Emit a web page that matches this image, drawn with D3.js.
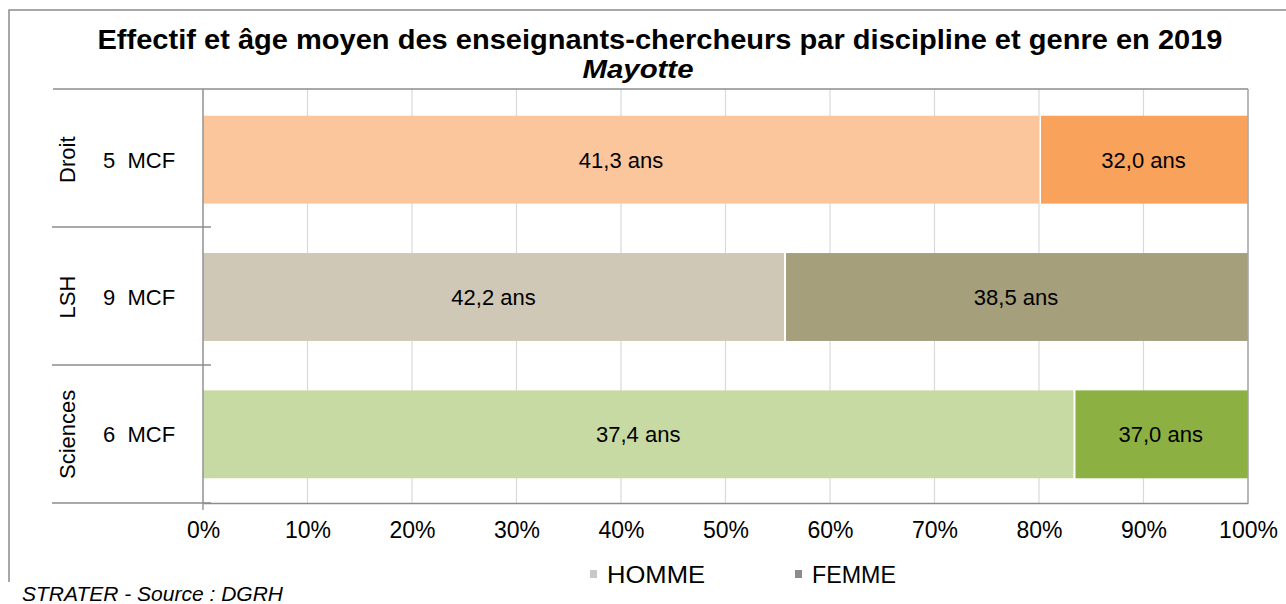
<!DOCTYPE html>
<html>
<head>
<meta charset="utf-8">
<script src="https://cdn.jsdelivr.net/npm/d3@7"></script>
<style>
body { margin: 0; background: #fff; }
text { font-family: "Liberation Sans", Arial, sans-serif; fill: #000; }
</style>
</head>
<body>
<svg id="chart" width="1286" height="604"></svg>
<script>
const disciplines = ["Droit", "LSH", "Sciences"];
const effectifs = ["5  MCF", "9  MCF", "6  MCF"];
const partHomme = [80.0, 55.6, 83.3];
const partFemme = [20.0, 44.4, 16.7];
const ageHomme = ["41,3 ans", "42,2 ans", "37,4 ans"];
const ageFemme = ["32,0 ans", "38,5 ans", "37,0 ans"];
const couleursHomme = ["#fcc69c", "#cfc8b6", "#c8daa4"];
const couleursFemme = ["#f9a25c", "#a59f7b", "#8cb042"];
const ticks = [0, 10, 20, 30, 40, 50, 60, 70, 80, 90, 100];

const svg = d3.select("#chart");

// cadre
svg.append("rect").attr("x", 9).attr("y", 10).attr("width", 1290).attr("height", 600)
	.attr("fill", "none").attr("stroke", "#8c8c8c").attr("stroke-width", 1.5);

const pLeft = 203, pRight = 1248, pTop = 89, pBottom = 503;
const xs = d3.scaleLinear().domain([0, 100]).range([pLeft, pRight]);
const ys = d3.scaleBand().domain(disciplines).range([pTop + 2, pBottom]).paddingInner(0.36).paddingOuter(0.18);

// titre
svg.append("text").attr("x", 660).attr("y", 49).attr("text-anchor", "middle")
	.style("font-family", "'Liberation Sans Narrow', 'Liberation Sans', sans-serif")
	.style("font-weight", "bold").style("font-size", "27px")
	.attr("textLength", 1125).attr("lengthAdjust", "spacingAndGlyphs")
	.text("Effectif et âge moyen  des enseignants-chercheurs par discipline et genre en 2019");
svg.append("text").attr("x", 638).attr("y", 78).attr("text-anchor", "middle")
	.style("font-family", "'Liberation Sans Narrow', 'Liberation Sans', sans-serif")
	.style("font-weight", "bold").style("font-style", "italic").style("font-size", "26px")
	.attr("textLength", 111).attr("lengthAdjust", "spacingAndGlyphs")
	.text("Mayotte");

// grille
svg.append("g").selectAll("line").data(ticks).enter().append("line")
	.attr("x1", d => xs(d)).attr("x2", d => xs(d))
	.attr("y1", pTop).attr("y2", pBottom)
	.attr("stroke", d => d === 100 ? "#a6a6a6" : "#d9d9d9").attr("stroke-width", 1.2);
svg.append("line").attr("x1", pLeft - 150).attr("x2", pRight).attr("y1", pTop).attr("y2", pTop)
	.attr("stroke", "#8c8c8c").attr("stroke-width", 1.3);

// barres
const rows = disciplines.map((d, i) => ({ d, i }));
const g = svg.append("g");
g.selectAll(".homme").data(rows).enter().append("rect")
	.attr("x", r => xs(0)).attr("y", r => ys(r.d))
	.attr("width", r => xs(partHomme[r.i]) - xs(0)).attr("height", ys.bandwidth())
	.attr("fill", r => couleursHomme[r.i]);
g.selectAll(".femme").data(rows).enter().append("rect")
	.attr("x", r => xs(partHomme[r.i]) + 2).attr("y", r => ys(r.d))
	.attr("width", r => xs(partHomme[r.i] + partFemme[r.i]) - xs(partHomme[r.i]) - 2).attr("height", ys.bandwidth())
	.attr("fill", r => couleursFemme[r.i]);

g.selectAll(".lh").data(rows).enter().append("text")
	.attr("x", r => xs(partHomme[r.i] / 2)).attr("y", r => ys(r.d) + ys.bandwidth() / 2 + 8)
	.attr("text-anchor", "middle").style("font-size", "22px").text(r => ageHomme[r.i]);
g.selectAll(".lf").data(rows).enter().append("text")
	.attr("x", r => xs(partHomme[r.i] + partFemme[r.i] / 2)).attr("y", r => ys(r.d) + ys.bandwidth() / 2 + 8)
	.attr("text-anchor", "middle").style("font-size", "22px").text(r => ageFemme[r.i]);

// axe vertical et catégories
svg.append("line").attr("x1", pLeft).attr("x2", pLeft).attr("y1", pTop).attr("y2", pBottom + 7)
	.attr("stroke", "#8c8c8c").attr("stroke-width", 1.3);
const step = (pBottom - pTop) / disciplines.length;
disciplines.forEach((d, i) => {
	const yb = pTop + step * (i + 1);
	svg.append("line").attr("x1", 52).attr("x2", pLeft + 8).attr("y1", yb).attr("y2", yb)
		.attr("stroke", "#8c8c8c").attr("stroke-width", 1.3);
	svg.append("text").attr("transform", `translate(75,${ys(d) + ys.bandwidth() / 2}) rotate(-90)`)
		.attr("text-anchor", "middle").style("font-size", "22px").text(d);
	svg.append("text").attr("x", 103).attr("y", ys(d) + ys.bandwidth() / 2 + 8)
		.style("font-size", "22px").style("white-space", "pre").attr("xml:space", "preserve").text(effectifs[i]);
});
svg.append("line").attr("x1", pRight).attr("x2", pRight).attr("y1", pTop).attr("y2", pBottom)
	.attr("stroke", "#a6a6a6");

// axe x
const ax = svg.append("g").attr("transform", `translate(0,${pBottom})`)
	.call(d3.axisBottom(xs).tickValues(ticks).tickFormat(d => d + "%").tickSize(0).tickPadding(19));
ax.select(".domain").attr("stroke", "#8c8c8c").attr("stroke-width", 1.3);
ax.selectAll("text").style("font-size", "23px").style("font-family", "'Liberation Sans', sans-serif").attr("fill", "#000");

// légende
const leg = [["HOMME", "#c8c8c8", 590, 98], ["FEMME", "#8c8c8c", 795, 84]];
leg.forEach(l => {
	svg.append("rect").attr("x", l[2]).attr("y", 570).attr("width", 7).attr("height", 8).attr("fill", l[1]);
	svg.append("text").attr("x", l[2] + 17).attr("y", 583).style("font-size", "24px")
		.attr("textLength", l[3]).attr("lengthAdjust", "spacingAndGlyphs").text(l[0]);
});

// source
svg.append("rect").attr("x", 0).attr("y", 582).attr("width", 300).attr("height", 22).attr("fill", "#fff");
svg.append("text").attr("x", 22).attr("y", 601).style("font-size", "21px").style("font-style", "italic")
	.text("STRATER - Source : DGRH");
</script>
</body>
</html>
